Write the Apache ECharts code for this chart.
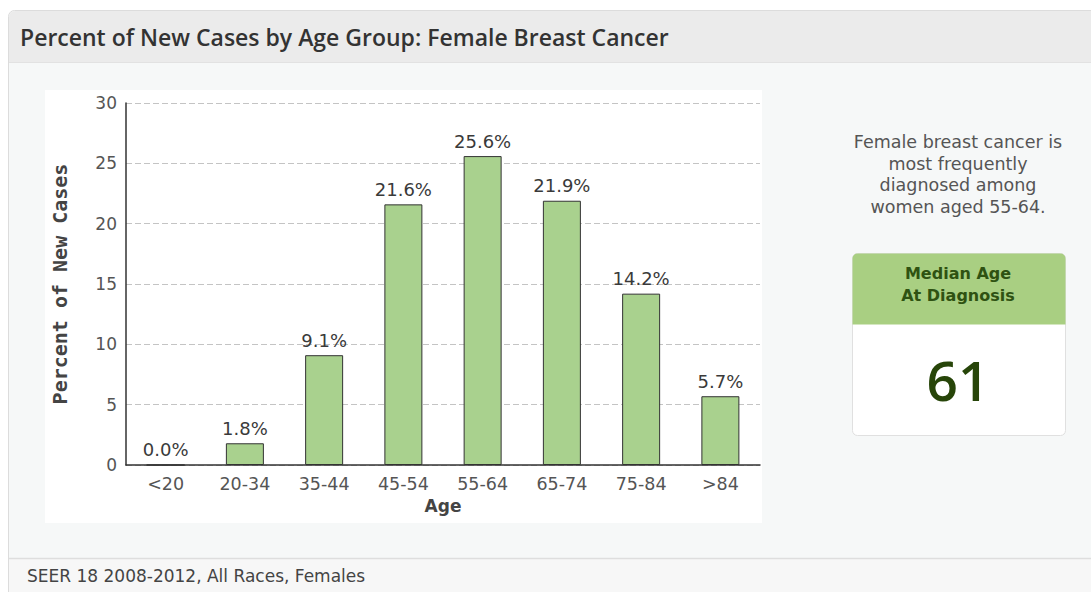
<!DOCTYPE html>
<html><head><meta charset="utf-8">
<script src="https://cdn.jsdelivr.net/npm/echarts@6/dist/echarts.min.js"></script>
<style>html,body{margin:0;padding:0;background:#fff;}#c{width:1091px;height:592px;}</style>
</head><body><div id="c"></div>
<script>
var categories = ['<20','20-34','35-44','45-54','55-64','65-74','75-84','>84'];
var percentValues = [0.0, 1.8, 9.1, 21.6, 25.6, 21.9, 14.2, 5.7];
var yTicks = [0, 5, 10, 15, 20, 25, 30];
var titleText = 'Percent of New Cases by Age Group: Female Breast Cancer';
var noteLines = ['Female breast cancer is', 'most frequently', 'diagnosed among', 'women aged 55-64.'];
var medianLabel = ['Median Age', 'At Diagnosis'];
var medianAge = '61';
var footerText = 'SEER 18 2008-2012, All Races, Females';

var chart = echarts.init(document.getElementById('c'), null, {renderer: 'svg'});
var F = 'DejaVu Sans';
function txt(x, y, t, size, color, weight, family, align) {
  return {type:'text', x:x, y:y, style:{text:t, fill:color, fontSize:size, fontWeight:weight || 'normal',
    fontFamily:family || F, textAlign:align || 'center', textVerticalAlign:'middle'}};
}
var graphics = [
  {type:'rect', z:-10, shape:{x:8.5,y:10.5,width:1100,height:590,r:[6,0,0,0]}, style:{fill:'#f6f8f8',stroke:'#dcdcdc',lineWidth:1}},
  {type:'rect', z:-9, shape:{x:9,y:11,width:1100,height:51,r:[6,0,0,0]}, style:{fill:'#ebebeb'}},
  {type:'line', z:-9, shape:{x1:9,y1:62.5,x2:1091,y2:62.5}, style:{stroke:'#e2e2e2',lineWidth:1}},
  {type:'rect', z:-9, shape:{x:9,y:559,width:1100,height:40}, style:{fill:'#f7f7f7'}},
  {type:'line', z:-9, shape:{x1:9,y1:558.5,x2:1091,y2:558.5}, style:{stroke:'#dedede',lineWidth:1.5}},
  {type:'rect', z:-8, shape:{x:45,y:90,width:717,height:433}, style:{fill:'#ffffff'}},
  txt(20, 37, titleText, 23, '#333', 600, 'Open Sans', 'left'),
  txt(27, 576, footerText, 17, '#444', 'normal', F, 'left'),
  {type:'rect', shape:{x:852.5,y:253.5,width:213,height:182,r:5}, style:{fill:'#ffffff',stroke:'#e0e0e0',lineWidth:1}},
  {type:'rect', shape:{x:852.5,y:253.5,width:213,height:71,r:[5,5,0,0]}, style:{fill:'#a9cf82'}}
];
noteLines.forEach(function(t,i){ graphics.push(txt(958, 142 + i*21.5, t, 17.5, '#555')); });
medianLabel.forEach(function(t,i){ graphics.push(txt(958, 273 + i*22, t, 16, '#2f5212', 'bold')); });
graphics.push(txt(958, 379, medianAge, 55, '#274509', 600, 'Open Sans'));

chart.setOption({
  animation:false,
  backgroundColor:'#ffffff',
  graphic: graphics,
  grid:{left:126, top:103, right:331, bottom:127},
  xAxis:{type:'category', data:categories, name:'Age', nameLocation:'middle', nameGap:32,
    nameTextStyle:{fontFamily:F, fontSize:17, fontWeight:'bold', color:'#444'},
    axisLine:{lineStyle:{color:'#333', width:1.5}}, axisTick:{show:false},
    axisLabel:{fontFamily:F, fontSize:17.5, color:'#555', margin:10}},
  yAxis:{type:'value', min:0, max:30, interval:5, name:'Percent of New Cases', nameLocation:'middle', nameGap:56,
    nameTextStyle:{fontFamily:'DejaVu Sans Mono', fontSize:20, fontWeight:'bold', color:'#444'},
    axisLine:{show:true, lineStyle:{color:'#333', width:1.5}}, axisTick:{show:false},
    axisLabel:{fontFamily:F, fontSize:17, color:'#555', margin:9,
      formatter:function(v){ return yTicks.indexOf(v) >= 0 ? String(v) : ''; }},
    splitLine:{lineStyle:{color:'#c4c4c4', type:[6,3]}}},
  series:[{type:'bar', data:percentValues, barWidth:38,
    itemStyle:{color:'#a9d18e', borderColor:'#333', borderWidth:1},
    label:{show:true, position:'top', distance:6, fontFamily:F, fontSize:18, color:'#3a3a3a',
      formatter:function(p){ return p.value.toFixed(1) + '%'; }}}]
});
</script></body></html>
